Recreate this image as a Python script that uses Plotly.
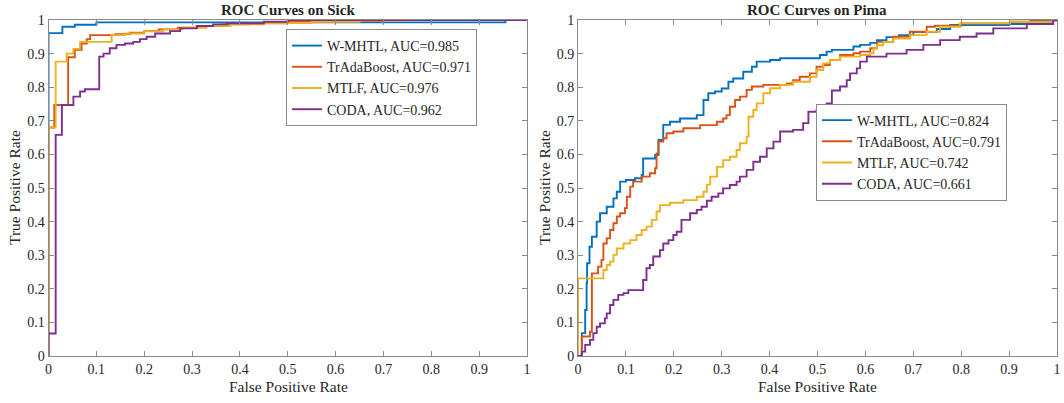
import plotly.graph_objects as go

# ---------------- data: ROC on Sick ----------------
sick_wmhtl_fpr = [0, 0, 0.029, 0.055, 0.10, 0.955, 1.0]
sick_wmhtl_tpr = [0, 0.961, 0.98, 0.986, 0.993, 1.0, 1.0]

sick_tra_fpr = [0, 0, 0.012, 0.041, 0.055, 0.069, 0.080, 0.087, 0.14, 0.17, 0.2, 0.23, 0.27, 0.31, 0.36, 0.42, 0.5, 0.6, 0.7, 1.0]
sick_tra_tpr = [0, 0.68, 0.747, 0.889, 0.911, 0.930, 0.943, 0.955, 0.958, 0.962, 0.967, 0.972, 0.977, 0.982, 0.987, 0.99, 0.994, 0.997, 1.0, 1.0]

sick_mtlf_fpr = [0, 0, 0.015, 0.038, 0.052, 0.066, 0.132, 0.16, 0.2, 0.24, 0.28, 0.33, 0.38, 0.45, 0.55, 0.65, 0.75, 1.0]
sick_mtlf_tpr = [0, 0.68, 0.876, 0.90, 0.914, 0.935, 0.955, 0.96, 0.966, 0.972, 0.977, 0.982, 0.987, 0.991, 0.995, 0.998, 1.0, 1.0]

sick_coda_fpr = [0, 0, 0.015, 0.028, 0.052, 0.066, 0.076, 0.106, 0.115, 0.128, 0.142, 0.16, 0.177, 0.191, 0.205, 0.223, 0.254, 0.275, 0.31, 0.344, 0.372, 0.45, 0.5, 1.0]
sick_coda_tpr = [0, 0.067, 0.658, 0.747, 0.772, 0.787, 0.794, 0.891, 0.90, 0.916, 0.926, 0.93, 0.935, 0.943, 0.95, 0.96, 0.967, 0.975, 0.982, 0.987, 0.99, 0.995, 1.0, 1.0]

# ---------------- data: ROC on Pima ----------------
pima_wmhtl_fpr = [0, 0.008, 0.015, 0.018, 0.019, 0.024, 0.029, 0.039, 0.046, 0.06, 0.074, 0.081, 0.088, 0.10, 0.119, 0.133, 0.136, 0.161, 0.168, 0.178,
                  0.192, 0.213, 0.248, 0.262, 0.272, 0.286, 0.30, 0.314, 0.324, 0.345, 0.363, 0.373, 0.401, 0.422, 0.505, 0.519, 0.53, 0.575, 0.589, 0.61,
                  0.624, 0.644, 0.67, 0.70, 0.749, 0.777, 0.90, 0.944, 0.975, 1.0]
pima_wmhtl_tpr = [0, 0.068, 0.137, 0.216, 0.276, 0.325, 0.355, 0.40, 0.425, 0.444, 0.469, 0.489, 0.519, 0.524, 0.529, 0.539, 0.588, 0.598, 0.643, 0.688,
                  0.697, 0.707, 0.717, 0.762, 0.782, 0.787, 0.796, 0.816, 0.826, 0.846, 0.861, 0.876, 0.881, 0.886, 0.896, 0.906, 0.911, 0.921, 0.926, 0.932,
                  0.94, 0.949, 0.955, 0.964, 0.973, 0.985, 0.988, 0.997, 1.0, 1.0]

pima_tra_fpr = [0, 0.008, 0.025, 0.029, 0.042, 0.049, 0.053, 0.06, 0.067, 0.074, 0.081, 0.088, 0.098, 0.102, 0.109, 0.115, 0.133, 0.150, 0.161, 0.164,
                0.168, 0.178, 0.185, 0.199, 0.22, 0.255, 0.29, 0.303, 0.31, 0.317, 0.328, 0.338, 0.352, 0.363, 0.387, 0.436, 0.449, 0.463, 0.484, 0.498,
                0.512, 0.526, 0.547, 0.575, 0.589, 0.61, 0.624, 0.658, 0.693, 0.728, 0.745, 0.80, 0.902, 0.99, 1.0]
pima_tra_tpr = [0, 0.058, 0.072, 0.246, 0.266, 0.286, 0.335, 0.35, 0.375, 0.395, 0.415, 0.425, 0.44, 0.474, 0.504, 0.519, 0.534, 0.544, 0.559, 0.603,
                0.638, 0.648, 0.663, 0.668, 0.678, 0.687, 0.697, 0.707, 0.717, 0.742, 0.762, 0.772, 0.792, 0.802, 0.807, 0.811, 0.821, 0.831, 0.841, 0.861,
                0.866, 0.881, 0.896, 0.901, 0.906, 0.916, 0.935, 0.95, 0.965, 0.98, 0.983, 0.99, 0.995, 1.0, 1.0]

pima_mtlf_fpr = [0, 0, 0.053, 0.06, 0.067, 0.074, 0.081, 0.095, 0.109, 0.122, 0.133, 0.143, 0.154, 0.164, 0.171, 0.192, 0.22, 0.248, 0.262, 0.269,
                 0.276, 0.29, 0.303, 0.317, 0.331, 0.338, 0.352, 0.356, 0.366, 0.373, 0.387, 0.401, 0.422, 0.449, 0.484, 0.498, 0.512, 0.526, 0.547, 0.589,
                 0.61, 0.617, 0.624, 0.637, 0.658, 0.693, 0.728, 0.756, 0.797, 0.902, 0.99, 1.0]
pima_mtlf_tpr = [0, 0.231, 0.256, 0.271, 0.281, 0.301, 0.32, 0.335, 0.345, 0.36, 0.375, 0.385, 0.405, 0.43, 0.449, 0.456, 0.464, 0.474, 0.489, 0.51,
                 0.534, 0.563, 0.583, 0.593, 0.613, 0.633, 0.653, 0.712, 0.732, 0.752, 0.782, 0.797, 0.807, 0.816, 0.831, 0.851, 0.871, 0.881, 0.891, 0.896,
                 0.901, 0.915, 0.925, 0.935, 0.945, 0.955, 0.965, 0.98, 0.99, 0.995, 1.0, 1.0]

pima_coda_fpr = [0, 0.008, 0.015, 0.025, 0.032, 0.039, 0.046, 0.056, 0.06, 0.067, 0.074, 0.084, 0.095, 0.105, 0.136, 0.143, 0.15, 0.157, 0.171, 0.178,
                 0.189, 0.199, 0.206, 0.216, 0.234, 0.248, 0.258, 0.269, 0.279, 0.293, 0.303, 0.317, 0.331, 0.338, 0.352, 0.366, 0.38, 0.394, 0.408, 0.422,
                 0.449, 0.47, 0.481, 0.498, 0.519, 0.53, 0.547, 0.561, 0.568, 0.582, 0.589, 0.603, 0.644, 0.686, 0.721, 0.756, 0.797, 0.832, 0.867, 0.937,
                 0.992, 1.0]
pima_coda_tpr = [0, 0.013, 0.033, 0.048, 0.068, 0.087, 0.097, 0.112, 0.127, 0.152, 0.167, 0.182, 0.187, 0.196, 0.226, 0.261, 0.271, 0.296, 0.315, 0.335,
                 0.345, 0.36, 0.37, 0.405, 0.425, 0.435, 0.444, 0.462, 0.474, 0.484, 0.499, 0.509, 0.519, 0.534, 0.554, 0.578, 0.593, 0.618, 0.638, 0.668,
                 0.673, 0.693, 0.727, 0.732, 0.752, 0.79, 0.802, 0.821, 0.841, 0.856, 0.876, 0.891, 0.90, 0.911, 0.926, 0.94, 0.95, 0.96, 0.975, 0.988,
                 0.998, 1.0]

names_sick = ["W-MHTL, AUC=0.985", "TrAdaBoost, AUC=0.971", "MTLF, AUC=0.976", "CODA, AUC=0.962"]
names_pima = ["W-MHTL, AUC=0.824", "TrAdaBoost, AUC=0.791", "MTLF, AUC=0.742", "CODA, AUC=0.661"]
colors = ["#0072BD", "#D95319", "#EDB120", "#7E2F8E"]
tick_vals = [0, 0.1, 0.2, 0.3, 0.4, 0.5, 0.6, 0.7, 0.8, 0.9, 1]
tick_text = ["0", "0.1", "0.2", "0.3", "0.4", "0.5", "0.6", "0.7", "0.8", "0.9", "1"]

SERIF = "Liberation Serif, Times New Roman, serif"
TXT = "#262626"
AX = "#8a8a8a"

fig = go.Figure()
sick = [(sick_wmhtl_fpr, sick_wmhtl_tpr), (sick_tra_fpr, sick_tra_tpr), (sick_mtlf_fpr, sick_mtlf_tpr), (sick_coda_fpr, sick_coda_tpr)]
pima = [(pima_wmhtl_fpr, pima_wmhtl_tpr), (pima_tra_fpr, pima_tra_tpr), (pima_mtlf_fpr, pima_mtlf_tpr), (pima_coda_fpr, pima_coda_tpr)]
for i, (x, y) in enumerate(sick):
    fig.add_trace(go.Scatter(x=x, y=y, mode="lines", line=dict(color=colors[i], width=1.9, shape="hv"),
                             name=names_sick[i], xaxis="x", yaxis="y", legend="legend"))
for i, (x, y) in enumerate(pima):
    fig.add_trace(go.Scatter(x=x, y=y, mode="lines", line=dict(color=colors[i], width=1.9, shape="hv"),
                             name=names_pima[i], xaxis="x2", yaxis="y2", legend="legend2"))

W, H = 1064, 403
def dx(px):
    return px / W
def dy(py):
    return (H - py) / H

axis_common = dict(range=[0, 1], tickvals=tick_vals, ticktext=tick_text, ticks="inside", ticklen=5,
                   tickcolor=AX, showline=True, linecolor=AX, linewidth=1, mirror="ticks",
                   showgrid=False, zeroline=False, automargin=False,
                   tickfont=dict(family=SERIF, size=14, color=TXT))

fig.update_layout(
    width=W, height=H, margin=dict(l=0, r=0, t=0, b=0, autoexpand=False),
    paper_bgcolor="white", plot_bgcolor="white",
    xaxis=dict(domain=[dx(48.5), dx(527)], anchor="y", **axis_common),
    yaxis=dict(domain=[dy(356), dy(20)], anchor="x", **axis_common),
    xaxis2=dict(domain=[dx(578), dx(1057)], anchor="y2", **axis_common),
    yaxis2=dict(domain=[dy(356), dy(20)], anchor="x2", **axis_common),
    legend=dict(x=dx(286), y=dy(77.5), xanchor="left", yanchor="middle", bgcolor="white",
                bordercolor=AX, borderwidth=1, font=dict(family=SERIF, size=14, color=TXT), tracegroupgap=0),
    legend2=dict(x=dx(816), y=dy(152), xanchor="left", yanchor="middle", bgcolor="white",
                 bordercolor=AX, borderwidth=1, font=dict(family=SERIF, size=14, color=TXT), tracegroupgap=0),
    showlegend=True,
)

annos = [
    dict(text="<b>ROC Curves on Sick</b>", x=dx(288), y=dy(10), size=15, angle=0),
    dict(text="<b>ROC Curves on Pima</b>", x=dx(817), y=dy(10), size=15, angle=0),
    dict(text="False Positive Rate", x=dx(288), y=dy(386), size=15.5, angle=0),
    dict(text="False Positive Rate", x=dx(817), y=dy(386), size=15.5, angle=0),
    dict(text="True Positive Rate", x=dx(15), y=dy(188), size=15.5, angle=-90),
    dict(text="True Positive Rate", x=dx(545), y=dy(188), size=15.5, angle=-90),
]
for a in annos:
    fig.add_annotation(text=a["text"], x=a["x"], y=a["y"], xref="paper", yref="paper",
                       xanchor="center", yanchor="middle", showarrow=False, textangle=a["angle"],
                       borderpad=0, font=dict(family=SERIF, size=a["size"], color=TXT))

# remove the browser's default 8px page margin so the figure fills the window exactly
fig.write_html("out.html", config={"displayModeBar": False},
               post_script="document.body.style.margin='0px';")
